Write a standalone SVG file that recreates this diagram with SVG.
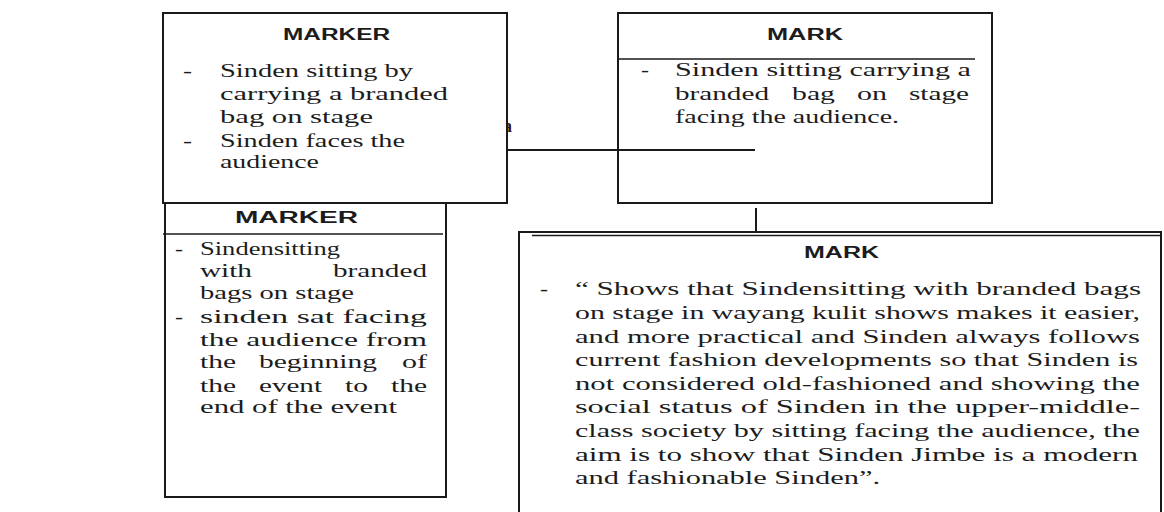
<svg xmlns="http://www.w3.org/2000/svg" width="1164" height="512" viewBox="0 0 1164 512">
<style>
.box{fill:#fff;stroke:#1a1a1a;stroke-width:2}
.ln{fill:none;stroke:#1a1a1a;stroke-width:2}
.thin{fill:none;stroke:#1a1a1a;stroke-width:1.4}
.t{font-family:"Liberation Sans",Arial,sans-serif;font-weight:bold;font-size:16px;fill:#1c1c1c}
.s{font-family:"Liberation Serif","Times New Roman",serif;font-size:18px;fill:#1c1c1c}
</style>
<rect width="1164" height="512" fill="#fff"/>
<text class="s" x="503" y="132" font-size="22" font-weight="bold" fill="#000">a</text>
<g id="connectors">
<line class="ln" x1="507" y1="150" x2="755" y2="150"/>
<line class="ln" x1="756" y1="208" x2="756" y2="232"/>
</g>
<g id="marker-top">
<rect class="box" x="163" y="13" width="344" height="190"/>
<text class="t" x="283" y="40" font-size="17" textLength="107" lengthAdjust="spacingAndGlyphs">MARKER</text>
<text class="s" x="183" y="77" textLength="9" lengthAdjust="spacingAndGlyphs">-</text>
<text class="s" x="220" y="77" textLength="193" lengthAdjust="spacingAndGlyphs">Sinden sitting by</text>
<text class="s" x="220" y="100" textLength="228" lengthAdjust="spacingAndGlyphs">carrying a branded</text>
<text class="s" x="220" y="123" textLength="153" lengthAdjust="spacingAndGlyphs">bag on stage</text>
<text class="s" x="183" y="147" textLength="9" lengthAdjust="spacingAndGlyphs">-</text>
<text class="s" x="220" y="147" textLength="185" lengthAdjust="spacingAndGlyphs">Sinden faces the</text>
<text class="s" x="220" y="168" textLength="99" lengthAdjust="spacingAndGlyphs">audience</text>
</g>
<g id="mark-top">
<path class="ln" d="M618,13 H992 V203 H618 Z"/>
<line class="thin" x1="618" y1="59" x2="975" y2="59"/>
<text class="t" x="767" y="40" font-size="17" textLength="76" lengthAdjust="spacingAndGlyphs">MARK</text>
<text class="s" x="641" y="76" textLength="8" lengthAdjust="spacingAndGlyphs">-</text>
<text class="s" x="675" y="76" textLength="296" lengthAdjust="spacingAndGlyphs">Sinden sitting carrying a</text>
<text class="s" x="675" y="100" textLength="94" lengthAdjust="spacingAndGlyphs">branded</text>
<text class="s" x="792" y="100" textLength="43" lengthAdjust="spacingAndGlyphs">bag</text>
<text class="s" x="857" y="100" textLength="30" lengthAdjust="spacingAndGlyphs">on</text>
<text class="s" x="909" y="100" textLength="60" lengthAdjust="spacingAndGlyphs">stage</text>
<text class="s" x="675" y="123" textLength="224" lengthAdjust="spacingAndGlyphs">facing the audience.</text>
</g>
<g id="marker-bottom">
<rect class="box" x="165" y="203" width="281" height="294"/>
<line class="thin" x1="163" y1="234" x2="443" y2="234"/>
<text class="t" x="235" y="223" textLength="123" lengthAdjust="spacingAndGlyphs">MARKER</text>
<text class="s" x="175" y="255" textLength="8" lengthAdjust="spacingAndGlyphs">-</text>
<text class="s" x="200" y="255" textLength="140" lengthAdjust="spacingAndGlyphs">Sindensitting</text>
<text class="s" x="200" y="277" textLength="52" lengthAdjust="spacingAndGlyphs">with</text>
<text class="s" x="333" y="277" textLength="94" lengthAdjust="spacingAndGlyphs">branded</text>
<text class="s" x="200" y="299" textLength="154" lengthAdjust="spacingAndGlyphs">bags on stage</text>
<text class="s" x="175" y="323" textLength="8" lengthAdjust="spacingAndGlyphs">-</text>
<text class="s" x="200" y="323" textLength="227" lengthAdjust="spacingAndGlyphs">sinden sat facing</text>
<text class="s" x="200" y="346" textLength="227" lengthAdjust="spacingAndGlyphs">the audience from</text>
<text class="s" x="200" y="368" textLength="36" lengthAdjust="spacingAndGlyphs">the</text>
<text class="s" x="259" y="368" textLength="118" lengthAdjust="spacingAndGlyphs">beginning</text>
<text class="s" x="402" y="368" textLength="25" lengthAdjust="spacingAndGlyphs">of</text>
<text class="s" x="200" y="392" textLength="36" lengthAdjust="spacingAndGlyphs">the</text>
<text class="s" x="259" y="392" textLength="63" lengthAdjust="spacingAndGlyphs">event</text>
<text class="s" x="345" y="392" textLength="23" lengthAdjust="spacingAndGlyphs">to</text>
<text class="s" x="391" y="392" textLength="36" lengthAdjust="spacingAndGlyphs">the</text>
<text class="s" x="200" y="413" textLength="197" lengthAdjust="spacingAndGlyphs">end of the event</text>
</g>
<g id="mark-bottom">
<path class="ln" d="M519,513 V232 H1161 V513"/>
<line class="thin" x1="532" y1="235.5" x2="1160" y2="235.5"/>
<text class="t" x="804" y="258" textLength="75" lengthAdjust="spacingAndGlyphs">MARK</text>
<text class="s" x="540" y="295" textLength="8" lengthAdjust="spacingAndGlyphs">-</text>
<text class="s" x="575" y="295" textLength="566" lengthAdjust="spacingAndGlyphs">“ Shows that Sindensitting with branded bags</text>
<text class="s" x="575" y="319" textLength="565" lengthAdjust="spacingAndGlyphs">on stage in wayang kulit shows makes it easier,</text>
<text class="s" x="575" y="343" textLength="565" lengthAdjust="spacingAndGlyphs">and more practical and Sinden always follows</text>
<text class="s" x="575" y="366" textLength="563" lengthAdjust="spacingAndGlyphs">current fashion developments so that Sinden is</text>
<text class="s" x="575" y="390" textLength="565" lengthAdjust="spacingAndGlyphs">not considered old-fashioned and showing the</text>
<text class="s" x="575" y="413" textLength="565" lengthAdjust="spacingAndGlyphs">social status of Sinden in the upper-middle-</text>
<text class="s" x="575" y="437" textLength="565" lengthAdjust="spacingAndGlyphs">class society by sitting facing the audience, the</text>
<text class="s" x="575" y="461" textLength="563" lengthAdjust="spacingAndGlyphs">aim is to show that Sinden Jimbe is a modern</text>
<text class="s" x="575" y="484" textLength="305" lengthAdjust="spacingAndGlyphs">and fashionable Sinden”.</text>
</g>
</svg>
